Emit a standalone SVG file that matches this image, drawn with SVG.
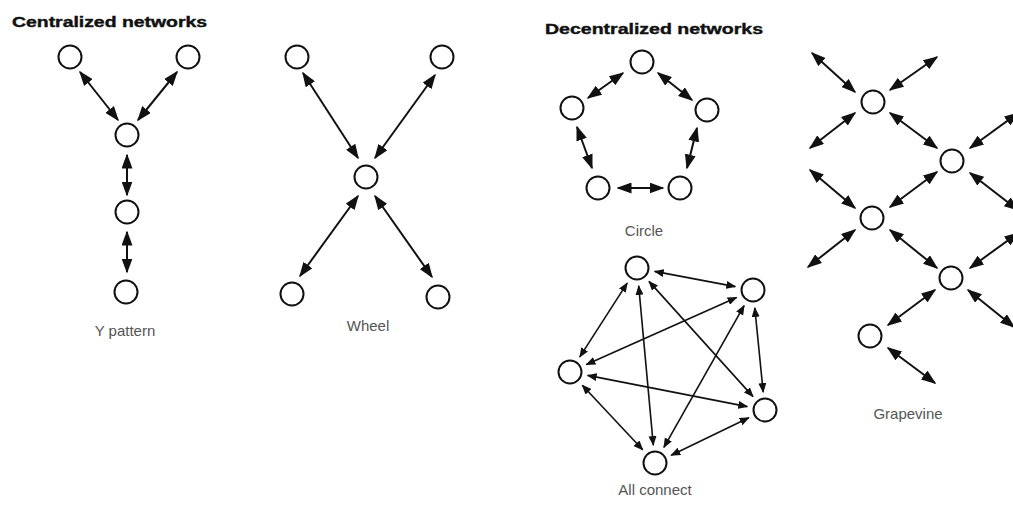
<svg xmlns="http://www.w3.org/2000/svg" width="1013" height="508" viewBox="0 0 1013 508">
<style>
.n{fill:#fff;stroke:#111;stroke-width:2}
.c line{stroke:#111;stroke-width:2;marker-start:url(#ah);marker-end:url(#ah)}
.c .s line{stroke-width:1.6;marker-start:url(#as);marker-end:url(#as)}
.t{font-family:"Liberation Sans",Arial,sans-serif;font-weight:bold;font-size:14.5px;fill:#111;stroke:#111;stroke-width:0.4}
.l{font-family:"Liberation Sans",Arial,sans-serif;font-size:15px;fill:#555;text-anchor:middle}
</style>
<defs>
<marker id="ah" viewBox="0 0 15 11" refX="13.5" refY="5.5" markerWidth="15" markerHeight="11" markerUnits="userSpaceOnUse" orient="auto-start-reverse"><path d="M0,0 L15,5.5 L0,11 z" fill="#111"/></marker>
<marker id="as" viewBox="0 0 10 8" refX="9" refY="4" markerWidth="10" markerHeight="8" markerUnits="userSpaceOnUse" orient="auto-start-reverse"><path d="M0,0 L10,4 L0,8 z" fill="#111"/></marker>
</defs>
<rect width="1013" height="508" fill="#fff"/>
<g id="titles">
<text class="t" x="12" y="27" textLength="195" lengthAdjust="spacingAndGlyphs">Centralized networks</text>
<text class="t" x="545" y="34" textLength="218" lengthAdjust="spacingAndGlyphs">Decentralized networks</text>
</g>
<g id="labels">
<text class="l" x="125" y="336">Y pattern</text>
<text class="l" x="368" y="331">Wheel</text>
<text class="l" x="644" y="236">Circle</text>
<text class="l" x="655" y="495">All connect</text>
<text class="l" x="908" y="419">Grapevine</text>
</g>
<g id="connectors" class="c">
<g id="y-edges">
<line x1="80" y1="72" x2="118" y2="120"/>
<line x1="177" y1="72" x2="138" y2="120"/>
<line x1="127" y1="155" x2="127" y2="195"/>
<line x1="127" y1="232" x2="127" y2="272"/>
</g>
<g id="wheel-edges">
<line x1="303" y1="73" x2="358" y2="158"/>
<line x1="435" y1="75" x2="375" y2="158"/>
<line x1="358" y1="196" x2="300" y2="276"/>
<line x1="375" y1="196" x2="432" y2="277"/>
</g>
<g id="circle-edges">
<line x1="623" y1="73" x2="588" y2="98"/>
<line x1="658" y1="73" x2="692" y2="100"/>
<line x1="577" y1="127" x2="592" y2="168"/>
<line x1="697" y1="128" x2="687" y2="168"/>
<line x1="618" y1="188" x2="663" y2="188"/>
</g>
<g id="allconnect-edges" class="s">
<line x1="654.7" y1="271.4" x2="735.3" y2="286.6"/>
<line x1="627.2" y1="283.1" x2="579.8" y2="356.9"/>
<line x1="649" y1="281.4" x2="753" y2="396.6"/>
<line x1="638.7" y1="285.9" x2="653.3" y2="445.1"/>
<line x1="736.6" y1="297.4" x2="586.4" y2="364.6"/>
<line x1="754.8" y1="307.9" x2="763.2" y2="392.1"/>
<line x1="744.1" y1="305.7" x2="663.9" y2="447.3"/>
<line x1="587.7" y1="375.4" x2="747.3" y2="406.6"/>
<line x1="582.3" y1="385.2" x2="642.7" y2="449.8"/>
<line x1="748.8" y1="417.8" x2="671.2" y2="455.2"/>
</g>
<g id="grapevine-edges">
<line x1="855" y1="92" x2="812" y2="53"/>
<line x1="890" y1="90" x2="937" y2="57"/>
<line x1="855" y1="113" x2="810" y2="148"/>
<line x1="890" y1="113" x2="937" y2="148"/>
<line x1="970" y1="148" x2="1018" y2="113"/>
<line x1="937" y1="172" x2="890" y2="207"/>
<line x1="970" y1="173" x2="1018" y2="210"/>
<line x1="855" y1="208" x2="810" y2="170"/>
<line x1="855" y1="230" x2="808" y2="267"/>
<line x1="890" y1="230" x2="937" y2="268"/>
<line x1="970" y1="268" x2="1018" y2="233"/>
<line x1="968" y1="290" x2="1014" y2="327"/>
<line x1="935" y1="290" x2="888" y2="325"/>
<line x1="888" y1="348" x2="935" y2="383"/>
</g>
</g>
<g id="y-top-left"><circle class="n" cx="70" cy="57" r="11.5"/></g>
<g id="y-top-right"><circle class="n" cx="188" cy="57" r="11.5"/></g>
<g id="y-center"><circle class="n" cx="127" cy="135" r="11.5"/></g>
<g id="y-middle"><circle class="n" cx="127" cy="212" r="11.5"/></g>
<g id="y-bottom"><circle class="n" cx="126" cy="292" r="11.5"/></g>
<g id="wheel-top-left"><circle class="n" cx="297" cy="57" r="11.5"/></g>
<g id="wheel-top-right"><circle class="n" cx="442" cy="57" r="11.5"/></g>
<g id="wheel-center"><circle class="n" cx="366" cy="177" r="11.5"/></g>
<g id="wheel-bottom-left"><circle class="n" cx="292" cy="294" r="11.5"/></g>
<g id="wheel-bottom-right"><circle class="n" cx="438" cy="297" r="11.5"/></g>
<g id="circle-top"><circle class="n" cx="642" cy="62" r="11.5"/></g>
<g id="circle-left"><circle class="n" cx="572" cy="108" r="11.5"/></g>
<g id="circle-right"><circle class="n" cx="707" cy="110" r="11.5"/></g>
<g id="circle-bottom-left"><circle class="n" cx="598" cy="188" r="11.5"/></g>
<g id="circle-bottom-right"><circle class="n" cx="680" cy="188" r="11.5"/></g>
<g id="all-top"><circle class="n" cx="637" cy="268" r="11.5"/></g>
<g id="all-right-top"><circle class="n" cx="753" cy="290" r="11.5"/></g>
<g id="all-left"><circle class="n" cx="570" cy="372" r="11.5"/></g>
<g id="all-right-bottom"><circle class="n" cx="765" cy="410" r="11.5"/></g>
<g id="all-bottom"><circle class="n" cx="655" cy="463" r="11.5"/></g>
<g id="grape-a"><circle class="n" cx="873" cy="102" r="11.5"/></g>
<g id="grape-b"><circle class="n" cx="952" cy="161" r="11.5"/></g>
<g id="grape-c"><circle class="n" cx="872" cy="218" r="11.5"/></g>
<g id="grape-d"><circle class="n" cx="951" cy="278" r="11.5"/></g>
<g id="grape-e"><circle class="n" cx="870" cy="336" r="11.5"/></g>
</svg>
